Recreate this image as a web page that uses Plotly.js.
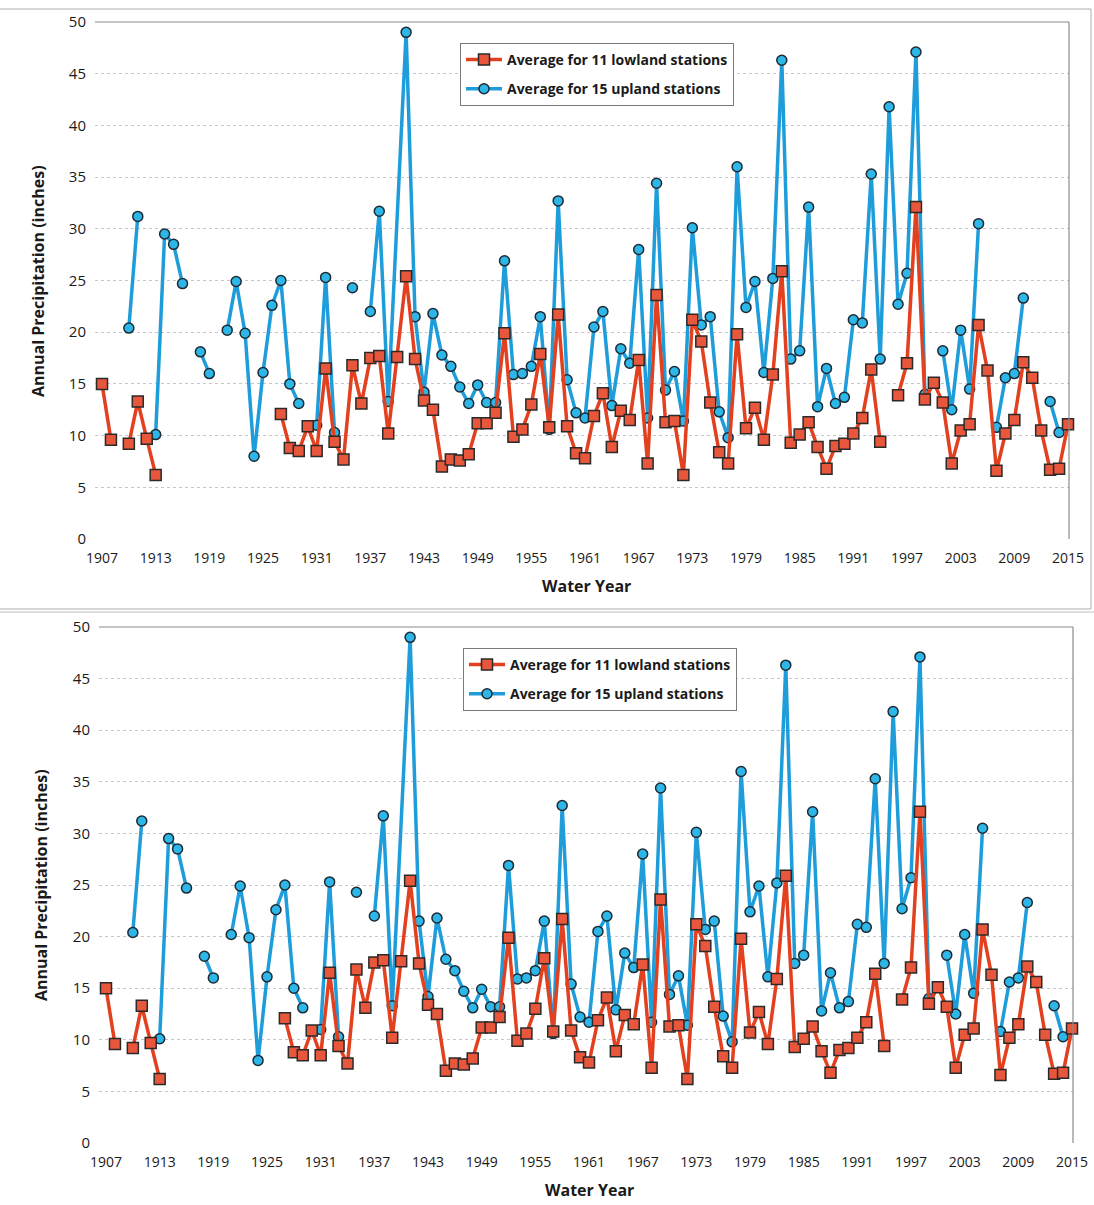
<!DOCTYPE html>
<html>
<head>
<meta charset="utf-8">
<script src="https://cdn.plot.ly/plotly-3.0.1.min.js"></script>
<style>
  html, body { margin: 0; padding: 0; background: #ffffff; }
  #chart { width: 1094px; height: 1205px; }
</style>
</head>
<body>
<div id="chart"></div>
<script>
// ---------------- DATA ----------------
const years = [
  1907,1908,1909,1910,1911,1912,1913,1914,1915,1916,1917,1918,1919,1920,1921,1922,1923,1924,1925,1926,
  1927,1928,1929,1930,1931,1932,1933,1934,1935,1936,1937,1938,1939,1940,1941,1942,1943,1944,1945,1946,
  1947,1948,1949,1950,1951,1952,1953,1954,1955,1956,1957,1958,1959,1960,1961,1962,1963,1964,1965,1966,
  1967,1968,1969,1970,1971,1972,1973,1974,1975,1976,1977,1978,1979,1980,1981,1982,1983,1984,1985,1986,
  1987,1988,1989,1990,1991,1992,1993,1994,1995,1996,1997,1998,1999,2000,2001,2002,2003,2004,2005,2006,
  2007,2008,2009,2010,2011,2012,2013,2014,2015
];

// Average for 11 lowland stations (inches); null = no data
const lowland = [
  15.0, 9.6, null, 9.2, 13.3, 9.7, 6.2, null, null, null, null, null, null, null, null, null, null, null, null, null,
  12.1, 8.8, 8.5, 10.9, 8.5, 16.5, 9.4, 7.7, 16.8, 13.1, 17.5, 17.7, 10.2, 17.6, 25.4, 17.4, 13.4, 12.5, 7.0, 7.7,
  7.6, 8.2, 11.2, 11.2, 12.2, 19.9, 9.9, 10.6, 13.0, 17.9, 10.8, 21.7, 10.9, 8.3, 7.8, 11.9, 14.1, 8.9, 12.4, 11.5,
  17.3, 7.3, 23.6, 11.3, 11.4, 6.2, 21.2, 19.1, 13.2, 8.4, 7.3, 19.8, 10.7, 12.7, 9.6, 15.9, 25.9, 9.3, 10.1, 11.3,
  8.9, 6.8, 9.0, 9.2, 10.2, 11.7, 16.4, 9.4, null, 13.9, 17.0, 32.1, 13.5, 15.1, 13.2, 7.3, 10.5, 11.1, 20.7, 16.3,
  6.6, 10.2, 11.5, 17.1, 15.6, 10.5, 6.7, 6.8, 11.1
];

// Average for 15 upland stations (inches); null = no data
const upland = [
  null, null, null, 20.4, 31.2, null, 10.1, 29.5, 28.5, 24.7, null, 18.1, 16.0, null, 20.2, 24.9, 19.9, 8.0, 16.1, 22.6,
  25.0, 15.0, 13.1, null, 11.0, 25.3, 10.3, null, 24.3, null, 22.0, 31.7, 13.3, null, 49.0, 21.5, 14.2, 21.8, 17.8, 16.7,
  14.7, 13.1, 14.9, 13.2, 13.2, 26.9, 15.9, 16.0, 16.7, 21.5, 10.6, 32.7, 15.4, 12.2, 11.7, 20.5, 22.0, 12.9, 18.4, 17.0,
  28.0, 11.7, 34.4, 14.4, 16.2, 11.4, 30.1, 20.7, 21.5, 12.3, 9.8, 36.0, 22.4, 24.9, 16.1, 25.2, 46.3, 17.4, 18.2, 32.1,
  12.8, 16.5, 13.1, 13.7, 21.2, 20.9, 35.3, 17.4, 41.8, 22.7, 25.7, 47.1, 14.0, null, 18.2, 12.5, 20.2, 14.5, 30.5, null,
  10.8, 15.6, 16.0, 23.3, null, null, 13.3, 10.3, null
];
// upland years with no value where the original line is drawn straight across
const uplandBridgedYears = [1940];

const yearTicks = [1907,1913,1919,1925,1931,1937,1943,1949,1955,1961,1967,1973,1979,1985,1991,1997,2003,2009,2015];
const lowlandName = "Average for 11 lowland stations";
const uplandName = "Average for 15 upland stations";
const xTitle = "Water Year";
const yTitle = "Annual Precipitation (inches)";

// ---------------- BUILD ----------------
const W = 1094, H = 1205;
const FONT = "Open Sans, Noto Sans, sans-serif";

const upX = [], upY = [];
years.forEach((yr, i) => {
  if (uplandBridgedYears.includes(yr)) return;
  upX.push(yr); upY.push(upland[i]);
});

const redLine = '#E2401F', redFill = '#E8573B';
const blueLine = '#1E9DDA', blueFill = '#2DB6E8';

function traces(xa, ya, lg, tag) {
  return [
    {
      x: upX, y: upY, xaxis: xa, yaxis: ya, legend: lg, legendgroup: tag + 'up',
      type: 'scatter', mode: 'lines+markers', name: uplandName, legendrank: 2,
      line: { color: blueLine, width: 3.5 },
      marker: { symbol: 'circle', size: 10, color: blueFill, line: { color: '#1d2a33', width: 1.5 } },
      connectgaps: false, cliponaxis: false, hoverinfo: 'x+y'
    },
    {
      x: years, y: lowland, xaxis: xa, yaxis: ya, legend: lg, legendgroup: tag + 'low',
      type: 'scatter', mode: 'lines+markers', name: lowlandName, legendrank: 1,
      line: { color: redLine, width: 3.5 },
      marker: { symbol: 'square', size: 11, color: redFill, line: { color: '#2a2a2a', width: 1.5 } },
      connectgaps: false, cliponaxis: false, hoverinfo: 'x+y'
    }
  ];
}

// pixel geometry of the two plot areas
const P1 = { l: 95, r: 1069, t: 22, b: 539 };
const P2 = { l: 99, r: 1073, t: 627, b: 1143 };
const xr = [1906.217, 2015.11];

function xaxisDef(P, anchor) {
  return {
    domain: [P.l / W, P.r / W], anchor: anchor, range: xr,
    tickmode: 'array', tickvals: yearTicks, ticktext: yearTicks.map(String),
    showgrid: false, zeroline: false, showline: false, ticks: '',
    ticklabelstandoff: 9,
    tickfont: { family: FONT, size: 14, color: '#1a1a1a' }
  };
}
function yaxisDef(P, anchor) {
  return {
    domain: [1 - P.b / H, 1 - P.t / H], anchor: anchor, range: [0, 50],
    tickmode: 'linear', tick0: 0, dtick: 5,
    showgrid: true, gridcolor: '#c4c8cc', griddash: '3px,3px', gridwidth: 1,
    zeroline: false, showline: false, ticks: '',
    ticklabelstandoff: 8,
    tickfont: { family: FONT, size: 15, color: '#1a1a1a' }
  };
}

function frameShapes(P) {
  const x0 = P.l / W, x1 = P.r / W, yT = 1 - P.t / H, yB = 1 - P.b / H;
  return [
    { type: 'line', xref: 'paper', yref: 'paper', x0: x0, x1: x1, y0: yT, y1: yT, line: { color: '#8a8a8a', width: 1.2 } },
    { type: 'line', xref: 'paper', yref: 'paper', x0: x1, x1: x1, y0: yB, y1: yT, line: { color: '#8a8a8a', width: 1.2 } }
  ];
}

const shapes = [
  ...frameShapes(P1), ...frameShapes(P2),
  // outer border of the upper chart
  { type: 'rect', xref: 'paper', yref: 'paper', x0: -0.01, x1: 1091 / W, y0: 1 - 609 / H, y1: 1 - 9 / H, line: { color: '#a9adb0', width: 1 } },
  { type: 'line', xref: 'paper', yref: 'paper', x0: 0, x1: 1, y0: 1 - 612 / H, y1: 1 - 612 / H, line: { color: '#b9bdc0', width: 1 } }
];

const annotations = [
  { text: '<b>' + xTitle + '</b>', xref: 'paper', yref: 'paper', x: 586 / W, y: 1 - 586 / H,
    xanchor: 'center', yanchor: 'middle', showarrow: false, font: { family: FONT, size: 16, color: '#1a1a1a' } },
  { text: '<b>' + xTitle + '</b>', xref: 'paper', yref: 'paper', x: 589 / W, y: 1 - 1190 / H,
    xanchor: 'center', yanchor: 'middle', showarrow: false, font: { family: FONT, size: 16, color: '#1a1a1a' } },
  { text: '<b>' + yTitle + '</b>', xref: 'paper', yref: 'paper', x: 38 / W, y: 1 - 281 / H, textangle: -90,
    xanchor: 'center', yanchor: 'middle', showarrow: false, font: { family: FONT, size: 16, color: '#1a1a1a' } },
  { text: '<b>' + yTitle + '</b>', xref: 'paper', yref: 'paper', x: 41 / W, y: 1 - 885 / H, textangle: -90,
    xanchor: 'center', yanchor: 'middle', showarrow: false, font: { family: FONT, size: 16, color: '#1a1a1a' } }
];

function legendDef(xpx, ypx) {
  return {
    x: xpx / W, y: 1 - ypx / H, xanchor: 'left', yanchor: 'top',
    bgcolor: '#ffffff', bordercolor: '#7a7a7a', borderwidth: 1,
    font: { family: FONT, size: 14, color: '#1a1a1a', weight: 'bold' },
    traceorder: 'grouped', itemwidth: 36, tracegroupgap: 8
  };
}

const data = [...traces('x', 'y', 'legend', 'a'), ...traces('x2', 'y2', 'legend2', 'b')];

const layout = {
  width: W, height: H,
  margin: { l: 0, r: 0, t: 0, b: 0 },
  paper_bgcolor: '#ffffff', plot_bgcolor: '#ffffff',
  showlegend: true,
  xaxis: xaxisDef(P1, 'y'), yaxis: yaxisDef(P1, 'x'),
  xaxis2: xaxisDef(P2, 'y2'), yaxis2: yaxisDef(P2, 'x2'),
  legend: legendDef(460, 43),
  legend2: legendDef(463, 648),
  shapes: shapes,
  annotations: annotations,
  font: { family: FONT }
};

Plotly.newPlot('chart', data, layout, { displayModeBar: false, staticPlot: true });
</script>
</body>
</html>
